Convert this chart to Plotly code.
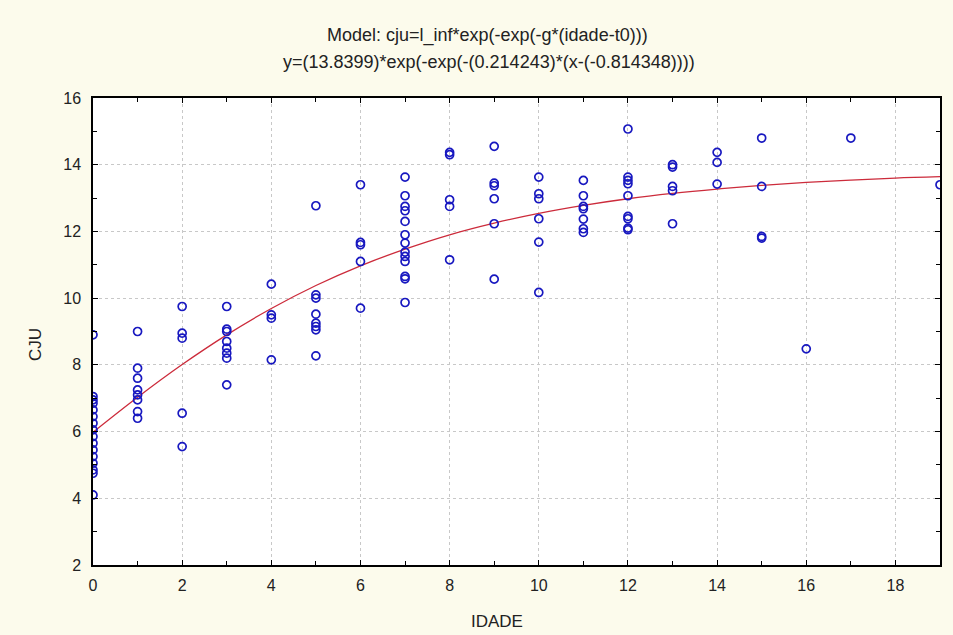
import plotly.graph_objects as go

# Observed data (IDADE, CJU)
idade_0 = [0]*16
cju_0 = [8.9, 7.05, 6.95, 6.85, 6.65, 6.45, 6.25, 6.05, 5.85, 5.65, 5.45, 5.25, 5.05, 4.85, 4.75, 4.1]
idade_1 = [1]*8
cju_1 = [9.0, 7.9, 7.6, 7.25, 7.1, 6.95, 6.6, 6.4]
idade_2 = [2]*5
cju_2 = [9.75, 8.95, 8.8, 6.55, 5.55]
idade_3 = [3]*8
cju_3 = [9.75, 9.07, 9.0, 8.7, 8.5, 8.35, 8.2, 7.4]
idade_4 = [4]*4
cju_4 = [10.42, 9.5, 9.4, 8.15]
idade_5 = [5]*8
cju_5 = [12.77, 10.1, 10.0, 9.52, 9.25, 9.15, 9.05, 8.27]
idade_6 = [6]*5
cju_6 = [13.4, 11.67, 11.6, 11.1, 9.7]
idade_7 = [7]*13
cju_7 = [13.63, 13.07, 12.75, 12.62, 12.3, 11.9, 11.65, 11.38, 11.25, 11.1, 10.65, 10.58, 9.87]
idade_8 = [8]*5
cju_8 = [14.37, 14.3, 12.95, 12.75, 11.15]
idade_9 = [9]*6
cju_9 = [14.55, 13.45, 13.37, 12.98, 12.23, 10.57]
idade_10 = [10]*6
cju_10 = [13.63, 13.13, 12.98, 12.38, 11.68, 10.17]
idade_11 = [11]*7
cju_11 = [13.53, 13.07, 12.75, 12.68, 12.37, 12.08, 11.97]
idade_12 = [12]*9
cju_12 = [15.07, 13.63, 13.53, 13.43, 13.07, 12.45, 12.38, 12.1, 12.05]
idade_13 = [13]*5
cju_13 = [14.0, 13.93, 13.35, 13.22, 12.23]
idade_14 = [14]*3
cju_14 = [14.37, 14.07, 13.42]
idade_15 = [15]*4
cju_15 = [14.8, 13.35, 11.85, 11.8]
idade_16 = [16]
cju_16 = [8.48]
idade_17 = [17]
cju_17 = [14.8]
idade_19 = [19]
cju_19 = [13.4]

idade = (idade_0 + idade_1 + idade_2 + idade_3 + idade_4 + idade_5 + idade_6 + idade_7 +
         idade_8 + idade_9 + idade_10 + idade_11 + idade_12 + idade_13 + idade_14 +
         idade_15 + idade_16 + idade_17 + idade_19)
cju = (cju_0 + cju_1 + cju_2 + cju_3 + cju_4 + cju_5 + cju_6 + cju_7 +
       cju_8 + cju_9 + cju_10 + cju_11 + cju_12 + cju_13 + cju_14 +
       cju_15 + cju_16 + cju_17 + cju_19)

# Fitted curve values read at integer ages
curve_x = list(range(0, 20))
curve_y = [5.98, 7.03, 8.01, 8.90, 9.69, 10.38, 10.97, 11.47, 11.90, 12.25,
           12.54, 12.78, 12.98, 13.14, 13.27, 13.38, 13.47, 13.54, 13.60, 13.64]

x_ticks = [0, 2, 4, 6, 8, 10, 12, 14, 16, 18]
y_ticks = [2, 4, 6, 8, 10, 12, 14, 16]

title_line1 = "Model: cju=l_inf*exp(-exp(-g*(idade-t0)))"
title_line2 = "y=(13.8399)*exp(-exp(-(0.214243)*(x-(-0.814348))))"
x_title = "IDADE"
y_title = "CJU"

fig = go.Figure()
fig.add_trace(go.Scatter(
    x=curve_x, y=curve_y, mode="lines", line=dict(color="#cc2b3b", width=1.3, shape="spline"),
    hoverinfo="skip", showlegend=False))
fig.add_trace(go.Scatter(
    x=idade, y=cju, mode="markers",
    marker=dict(symbol="circle-open", size=8, color="#1818c0", line=dict(width=1.7)),
    showlegend=False))

font = "Liberation Sans, Arial, sans-serif"
axis_common = dict(
    showline=True, linecolor="black", linewidth=1.5, mirror="ticks",
    ticks="inside", ticklen=5, tickcolor="black", tickwidth=1,
    showgrid=True, gridcolor="#c8c8c8", griddash="dot", gridwidth=1,
    zeroline=False, tickfont=dict(family=font, size=16, color="#222"),
    minor=dict(ticks="inside", ticklen=4, tickcolor="black", dtick=1, showgrid=False),
    automargin=False,
)

fig.update_xaxes(range=[0, 19], tickvals=x_ticks, ticklabelstandoff=5, **axis_common)
fig.update_yaxes(range=[2, 16], tickvals=y_ticks, ticklabelstandoff=7, **axis_common)

fig.update_layout(
    width=953, height=635,
    margin=dict(l=93, r=13, t=98, b=70),
    paper_bgcolor="#fcfbec", plot_bgcolor="white",
    annotations=[
        dict(text=title_line1, x=0.466, y=1, xref="paper", yref="paper", showarrow=False,
             yanchor="middle", yshift=63, font=dict(family=font, size=18, color="#222")),
        dict(text=title_line2, x=0.468, y=1, xref="paper", yref="paper", showarrow=False,
             yanchor="middle", yshift=36, font=dict(family=font, size=18, color="#222")),
        dict(text=x_title, x=0.477, y=0, xref="paper", yref="paper", showarrow=False,
             yanchor="middle", yshift=-56, font=dict(family=font, size=17, color="#222")),
        dict(text=y_title, x=0, y=0.471, xref="paper", yref="paper", showarrow=False,
             textangle=-90, xanchor="center", xshift=-58, font=dict(family=font, size=17, color="#222")),
    ],
)

fig.write_html("out.html", config={"displayModeBar": False},
               post_script="document.body.style.margin='0';document.body.style.overflow='hidden';")
